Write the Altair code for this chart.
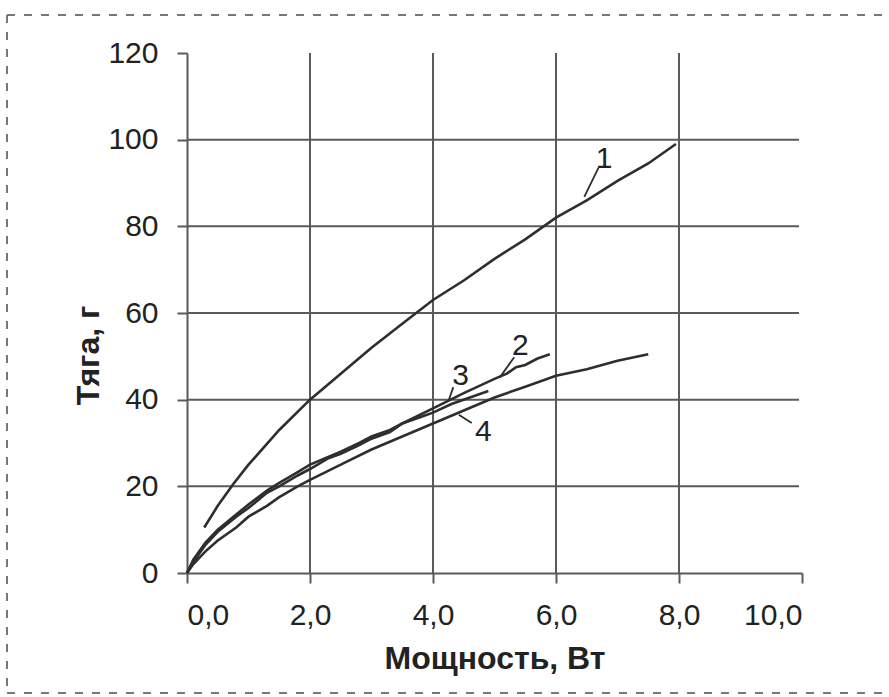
import altair as alt
import pandas as pd

# Curve 1
x1 = [0.28, 0.5, 0.75, 1.0, 1.5, 2.0, 2.5, 3.0, 3.5, 4.0, 4.5, 5.0, 5.5, 6.0, 6.5, 7.0, 7.5, 7.95]
y1 = [10.5, 15.5, 20.5, 25, 33, 40, 46, 52, 57.5, 63, 67.5, 72.5, 77, 82, 86, 90.5, 94.5, 99]
# Curve 2
x2 = [0, 0.1, 0.3, 0.5, 0.8, 1.0, 1.3, 1.5, 1.8, 2.0, 2.5, 2.8, 3.0, 3.3, 3.5, 4.0, 4.5, 5.0, 5.2, 5.35, 5.5, 5.7, 5.9]
y2 = [0, 3, 7, 10, 13.5, 15.8, 19, 20.8, 23.3, 25, 28, 30, 31.5, 33, 34.5, 38, 41.5, 44.8, 46, 47.5, 48, 49.5, 50.5]
# Curve 3
x3 = [0, 0.1, 0.3, 0.5, 0.8, 1.0, 1.3, 1.5, 1.8, 2.0, 2.3, 2.5, 2.8, 3.0, 3.3, 3.5, 3.8, 4.0, 4.3, 4.6, 4.9]
y3 = [0, 2.5, 6.5, 9.5, 13, 15, 18.5, 20, 22.5, 24, 26.5, 27.5, 29.5, 31, 32.5, 34.5, 36, 37, 39, 40.5, 42]
# Curve 4
x4 = [0, 0.1, 0.3, 0.5, 0.8, 1.0, 1.3, 1.5, 1.8, 2.0, 2.5, 3.0, 3.5, 4.0, 4.5, 5.0, 5.5, 6.0, 6.5, 7.0, 7.5]
y4 = [0, 2, 5, 7.5, 10.5, 13, 15.5, 17.5, 20, 21.5, 25, 28.5, 31.5, 34.5, 37.5, 40.5, 43, 45.5, 47, 49, 50.5]

# Curve labels and leader lines
lab_text = ["1", "2", "3", "4"]
lab_x = [6.78, 5.42, 4.45, 4.82]
lab_y = [95.5, 52.3, 45.5, 32.5]
lead_x = [6.46, 5.09, 4.26, 4.42]
lead_y = [86.8, 45.2, 40.0, 36.5]
lead_x2 = [6.69, 5.32, 4.33, 4.63]
lead_y2 = [93.5, 49.8, 42.9, 34.6]

grid_x = [2, 4, 6, 8]
grid_y = [20, 40, 60, 80, 100]
x_ticks = [0, 2, 4, 6, 8, 10]
y_ticks = [0, 20, 40, 60, 80, 100, 120]

rows = []
for name, xs, ys in [("1", x1, y1), ("2", x2, y2), ("3", x3, y3), ("4", x4, y4)]:
    for i, (a, b) in enumerate(zip(xs, ys)):
        rows.append({"curve": name, "i": i, "P": a, "T": b})
curves = pd.DataFrame(rows)

labels = pd.DataFrame({"t": lab_text, "x": lab_x, "y": lab_y})
leaders = pd.DataFrame({"x": lead_x, "y": lead_y, "x2": lead_x2, "y2": lead_y2})
gx = pd.DataFrame({"x": grid_x})
gy = pd.DataFrame({"y": grid_y})
one = pd.DataFrame({"a": [0]})

INK = "#2e2e2e"
GRID = "#5a5a5a"
TXT = "#222222"
FONT = "Liberation Sans"

xscale = alt.Scale(domain=[0, 10], nice=False)
yscale = alt.Scale(domain=[0, 120], nice=False)

xaxis = alt.Axis(values=x_ticks, grid=False,
                 labelExpr="replace(format(datum.value, '.1f'), '.', ',')",
                 title="Мощность, Вт", titleFontSize=32, titleFontWeight="bold",
                 titleColor=TXT, titlePadding=13,
                 labelFontSize=30, labelColor=TXT, labelPadding=17,
                 tickSize=10, tickColor=GRID, tickWidth=2,
                 domainColor=GRID, domainWidth=2, labelFont=FONT, titleFont=FONT)
yaxis = alt.Axis(values=y_ticks, grid=False,
                 title="Тяга, г", titleFontSize=32, titleFontWeight="bold",
                 titleColor=TXT, titleX=-82, titleY=302,
                 labelFontSize=30, labelColor=TXT, labelPadding=19,
                 tickSize=10, tickColor=GRID, tickWidth=2,
                 domainColor=GRID, domainWidth=2, labelFont=FONT, titleFont=FONT)

vgrid = alt.Chart(gx).mark_rule(color=GRID, strokeWidth=2).encode(
    x=alt.X("x:Q", scale=xscale, axis=xaxis),
    y=alt.value(0), y2=alt.value(520))
hgrid = alt.Chart(gy).mark_rule(color=GRID, strokeWidth=2).encode(
    y=alt.Y("y:Q", scale=yscale, axis=yaxis),
    x=alt.value(0), x2=alt.value(612))

lines = alt.Chart(curves).mark_line(color=INK, strokeWidth=2.6).encode(
    x=alt.X("P:Q", scale=xscale),
    y=alt.Y("T:Q", scale=yscale),
    detail="curve:N",
    order="i:Q")

leads = alt.Chart(leaders).mark_rule(color=INK, strokeWidth=1.8).encode(
    x=alt.X("x:Q", scale=xscale), y=alt.Y("y:Q", scale=yscale),
    x2="x2:Q", y2="y2:Q")

texts = alt.Chart(labels).mark_text(fontSize=30, font=FONT, color=TXT,
                                     baseline="middle", align="center").encode(
    x=alt.X("x:Q", scale=xscale), y=alt.Y("y:Q", scale=yscale), text="t:N")

bdash = [8, 9]
border_top = alt.Chart(one).mark_rule(color="#777777", strokeWidth=2, strokeDash=bdash).encode(
    x=alt.value(-180), x2=alt.value(702), y=alt.value(-38))
border_left = alt.Chart(one).mark_rule(color="#777777", strokeWidth=2, strokeDash=bdash).encode(
    x=alt.value(-180), y=alt.value(-38), y2=alt.value(640))
border_bottom = alt.Chart(one).mark_rule(color="#777777", strokeWidth=2, strokeDash=bdash).encode(
    x=alt.value(-180), x2=alt.value(702), y=alt.value(640))

chart = alt.layer(vgrid, hgrid, lines, leads, texts, border_top, border_left, border_bottom).properties(
    width=615, height=520,
    autosize=alt.AutoSizeParams(type="none"),
    padding={"left": 187, "top": 53, "right": 87, "bottom": 124},
    background="white"
).configure_view(stroke=None)

chart.save("out.html", embed_options={"renderer": "svg", "actions": False})
